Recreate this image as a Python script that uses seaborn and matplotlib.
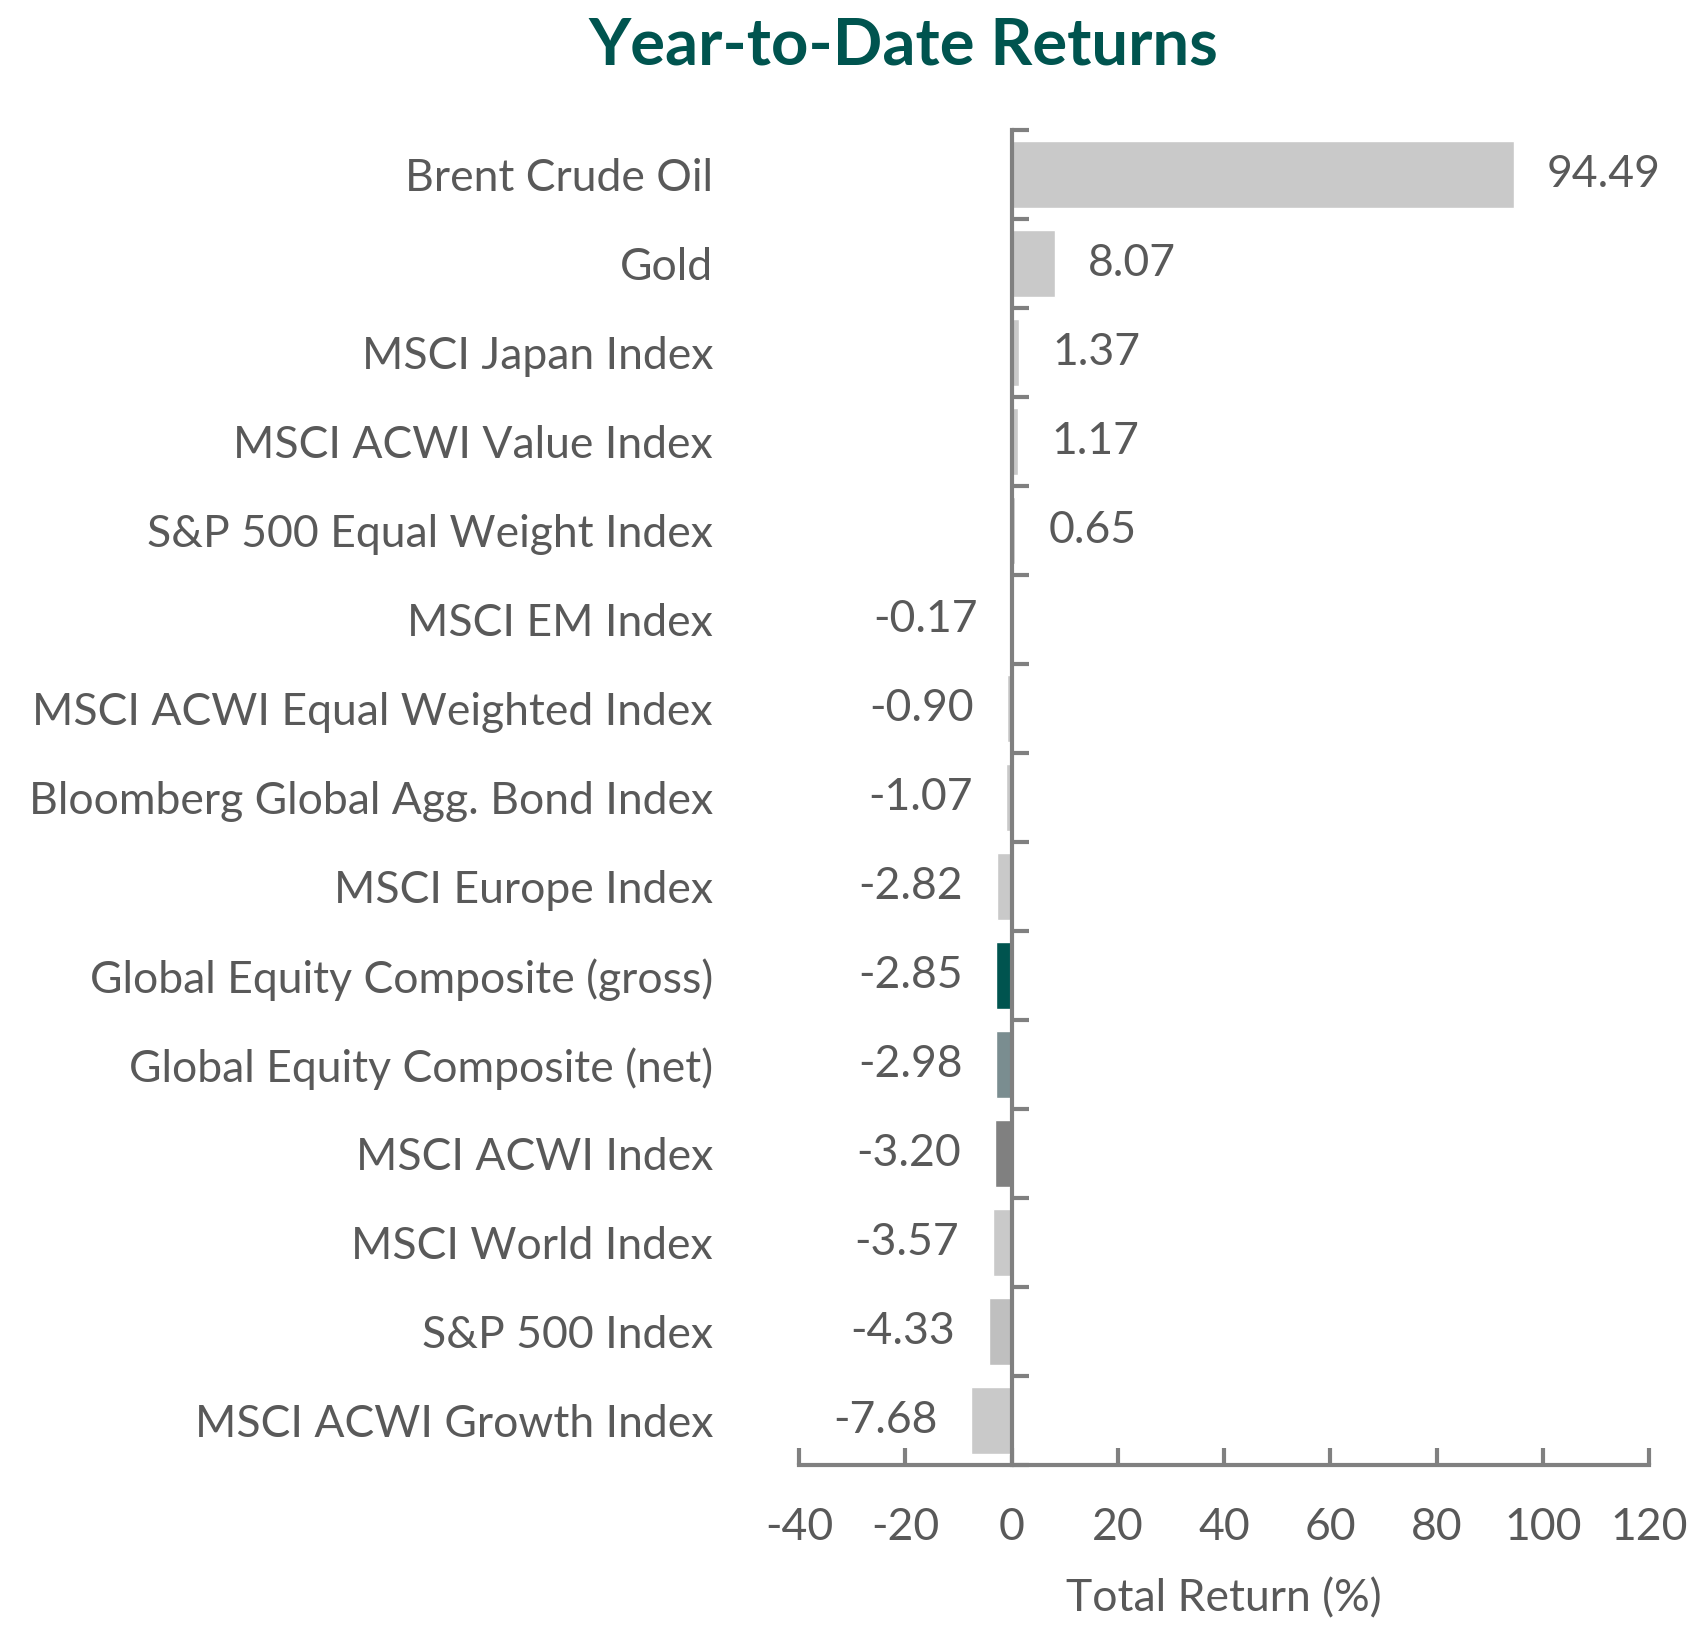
import matplotlib
matplotlib.use("Agg")
import matplotlib.pyplot as plt
import matplotlib.ticker as mticker
import seaborn as sns
import pandas as pd
import numpy as np

categories = ["Brent Crude Oil", "Gold", "MSCI Japan Index", "MSCI ACWI Value Index",
              "S&P 500 Equal Weight Index", "MSCI EM Index", "MSCI ACWI Equal Weighted Index",
              "Bloomberg Global Agg. Bond Index", "MSCI Europe Index",
              "Global Equity Composite (gross)", "Global Equity Composite (net)",
              "MSCI ACWI Index", "MSCI World Index", "S&P 500 Index", "MSCI ACWI Growth Index"]
values = [94.49, 8.07, 1.37, 1.17, 0.65, -0.17, -0.90, -1.07, -2.82, -2.85, -2.98,
          -3.20, -3.57, -4.33, -7.68]
bar_colors = ["#C9C9C9", "#C9C9C9", "#C9C9C9", "#C9C9C9", "#C9C9C9", "#C9C9C9", "#C9C9C9",
              "#C9C9C9", "#C9C9C9", "#00544F", "#7A8D90", "#808080", "#C9C9C9", "#BFBFBF",
              "#C9C9C9"]
x_ticks = [-40, -20, 0, 20, 40, 60, 80, 100, 120]

df = pd.DataFrame({"category": categories, "value": values})
palette = dict(zip(categories, bar_colors))

sns.set_theme(style="white")
plt.rcParams["font.family"] = ["Lato", "DejaVu Sans"]
text_color = "#595959"
spine_color = "#808080"
fs = 32

fig = plt.figure(figsize=(17.02, 16.36), dpi=100)
ax = fig.add_axes([0.4695, 0.1045, 0.4995, 0.816])

sns.barplot(data=df, y="category", x="value", hue="category", palette=palette,
            width=0.75, legend=False, saturation=1, ax=ax, orient="h")

ax.set_xlim(x_ticks[0], x_ticks[-1])
ax.set_ylim(len(categories) - 0.5, -0.5)
ax.set_xticks(x_ticks)
ax.set_xticklabels([str(t) for t in x_ticks])

for i, v in enumerate(values):
    off = 24 if v >= 0 else -24
    ax.annotate(f"{v:.2f}", xy=(v, i), xytext=(off, 0), textcoords="offset points",
                ha="left" if v >= 0 else "right", va="center", fontsize=fs, color=text_color)

# spines
for s in ["top", "left"]:
    ax.spines[s].set_visible(False)
ax.spines["right"].set_position(("data", 0))
ax.spines["right"].set_color(spine_color)
ax.spines["right"].set_linewidth(3)
ax.spines["bottom"].set_color(spine_color)
ax.spines["bottom"].set_linewidth(3)

ax.yaxis.set_minor_locator(mticker.FixedLocator(np.arange(-0.5, len(categories), 1.0)))
ax.tick_params(axis="y", which="major", left=False, right=False, labelleft=True,
               labelright=False, labelsize=fs, labelcolor=text_color, pad=56)
ax.tick_params(axis="y", which="minor", left=False, right=True, direction="out",
               length=12, width=3, color=spine_color)
ax.tick_params(axis="x", which="major", bottom=True, direction="in", length=12, width=3,
               color=spine_color, labelsize=fs, labelcolor=text_color, pad=30)
ax.set_ylabel("")
ax.set_xlabel("Total Return (%)", fontsize=fs, color=text_color, labelpad=22)

fig.text(0.531, 0.972, "Year-to-Date Returns", ha="center", va="center",
         fontsize=47, fontweight="bold", color="#00544F")

fig.savefig("out.png", dpi=100)
